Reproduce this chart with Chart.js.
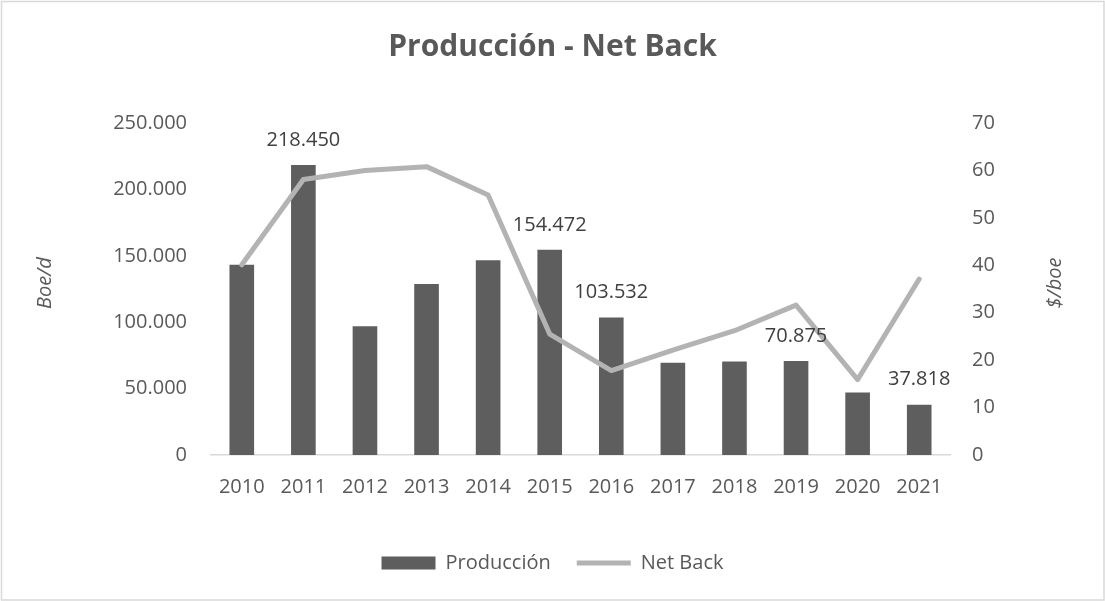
<!DOCTYPE html>
<html>
<head>
<meta charset="utf-8">
<script src="https://cdn.jsdelivr.net/npm/chart.js@4/dist/chart.umd.min.js"></script>
<style>
  html, body { margin: 0; padding: 0; background: #fff; }
  #wrap { width: 1105px; height: 601px; }
</style>
</head>
<body>
<div id="wrap"><canvas id="chart" width="1105" height="601"></canvas></div>
<script>
// datos
const years = ['2010', '2011', '2012', '2013', '2014', '2015', '2016', '2017', '2018', '2019', '2020', '2021'];
const produccion = [143300, 218450, 97000, 128700, 146600, 154472, 103532, 69400, 70500, 70875, 47000, 37818];
const netBack = [40.1, 58.1, 60.0, 60.8, 54.8, 25.5, 17.8, 22.1, 26.2, 31.6, 15.9, 37.1];
const labeledYears = ['2011', '2015', '2016', '2019', '2021'];

const FONT = "'Open Sans', 'Noto Sans', sans-serif";
const textColor = '#595959';

// separador de miles con punto
function fmt(v) {
    return String(v).replace(/\B(?=(\d{3})+(?!\d))/g, '.');
}

// fondo y borde del gráfico
const frame = {
    id: 'frame',
    beforeDraw(chart) {
        const ctx = chart.ctx;
        ctx.save();
        ctx.fillStyle = '#fff';
        ctx.fillRect(0, 0, chart.width, chart.height);
        ctx.strokeStyle = '#d9d9d9';
        ctx.lineWidth = 1.5;
        ctx.strokeRect(1.5, 1.5, chart.width - 2.5, chart.height - 2.5);
        ctx.restore();
    }
};

// etiquetas de valor sobre algunas barras
const barLabels = {
    id: 'barLabels',
    afterDatasetsDraw(chart) {
        const ctx = chart.ctx;
        const meta = chart.getDatasetMeta(1);
        ctx.save();
        ctx.font = '20px ' + FONT;
        ctx.fillStyle = '#404040';
        ctx.textAlign = 'center';
        ctx.textBaseline = 'middle';
        meta.data.forEach((bar, i) => {
            if (labeledYears.indexOf(years[i]) < 0) return;
            ctx.fillText(fmt(produccion[i]), bar.x, bar.y - 25);
        });
        ctx.restore();
    }
};

// títulos de ejes (ambos leídos de abajo hacia arriba, como en Excel)
const axisTitles = {
    id: 'axisTitles',
    afterDraw(chart) {
        const ctx = chart.ctx;
        const a = chart.chartArea;
        const midY = (a.top + a.bottom) / 2 - 6;
        ctx.save();
        ctx.font = 'italic 20px ' + FONT;
        ctx.fillStyle = textColor;
        ctx.textAlign = 'center';
        ctx.textBaseline = 'middle';
        [[a.left - 166, 'Boe/d'], [a.right + 105, '$/boe']].forEach(([x, t]) => {
            ctx.save();
            ctx.translate(x, midY);
            ctx.rotate(-Math.PI / 2);
            ctx.fillText(t, 0, 0);
            ctx.restore();
        });
        ctx.restore();
    }
};

new Chart(document.getElementById('chart'), {
    data: {
        labels: years,
        datasets: [{
            type: 'line',
            label: 'Net Back',
            data: netBack,
            yAxisID: 'y2',
            borderColor: '#b3b3b3',
            backgroundColor: '#b3b3b3',
            borderWidth: 5,
            borderCapStyle: 'round',
            borderJoinStyle: 'round',
            pointRadius: 0,
            pointStyle: 'line',
            tension: 0
        }, {
            type: 'bar',
            label: 'Producción',
            data: produccion,
            yAxisID: 'y',
            backgroundColor: '#5e5e5e',
            pointStyle: 'rect',
            barPercentage: 0.4,
            categoryPercentage: 1
        }]
    },
    options: {
        responsive: false,
        animation: false,
        devicePixelRatio: 1,
        layout: { padding: { left: 0, right: 0, top: 0, bottom: 18 } },
        plugins: {
            title: {
                display: true,
                text: 'Producción - Net Back',
                color: textColor,
                font: { family: FONT, size: 30, weight: 'bold' },
                padding: { top: 29.5, bottom: 57.5 }
            },
            legend: {
                position: 'bottom',
                reverse: true,
                labels: {
                    usePointStyle: true,
                    pointStyleWidth: 54,
                    boxHeight: 13,
                    padding: 26,
                    color: textColor,
                    font: { family: FONT, size: 20 }
                }
            },
            tooltip: { enabled: false }
        },
        scales: {
            x: {
                grid: { display: false },
                border: { display: true, color: '#d9d9d9', width: 1.5 },
                ticks: { color: textColor, padding: 12, font: { family: FONT, size: 20 }, maxRotation: 0 },
                afterFit(scale) { scale.height = 72; }
            },
            y: {
                position: 'left',
                min: 0,
                max: 250000,
                grid: { display: false },
                border: { display: false },
                ticks: {
                    stepSize: 50000,
                    padding: 16,
                    color: textColor,
                    font: { family: FONT, size: 20 },
                    callback: (v) => fmt(v)
                },
                afterFit(scale) { scale.width = 211; }
            },
            y2: {
                position: 'right',
                min: 0,
                max: 70,
                grid: { display: false },
                border: { display: false },
                ticks: {
                    stepSize: 10,
                    padding: 14,
                    color: textColor,
                    font: { family: FONT, size: 20 }
                },
                afterFit(scale) { scale.width = 155; }
            }
        }
    },
    plugins: [frame, barLabels, axisTitles]
});
</script>
</body>
</html>
